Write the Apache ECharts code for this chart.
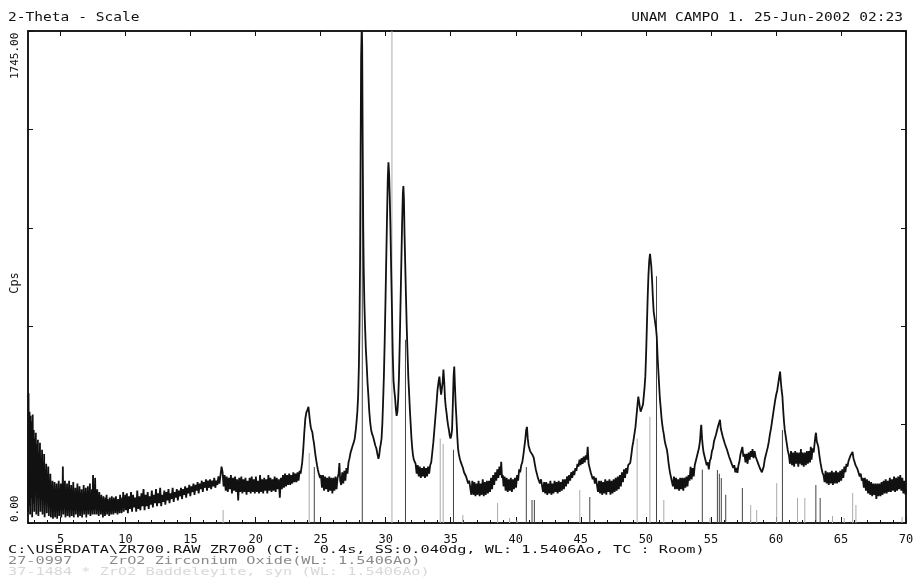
<!DOCTYPE html>
<html>
<head>
<meta charset="utf-8">
<script src="https://cdn.jsdelivr.net/npm/echarts@6/dist/echarts.min.js"></script>
<style>
  html, body { margin: 0; padding: 0; background: #fff; }
  #chart { width: 919px; height: 583px; }
</style>
</head>
<body>
<div id="chart"></div>
<script>
/*
 * ZR700 diffractogram, 2-Theta scale
 * */
var titleLeft = "2-Theta - Scale";
var titleRight = "UNAM CAMPO 1. 25-Jun-2002 02:23";
var footerLines = [
    "C:\\USERDATA\\ZR700.RAW ZR700 (CT:  0.4s, SS:0.040dg, WL: 1.5406Ao, TC : Room)",
    "27-0997    ZrO2 Zirconium Oxide(WL: 1.5406Ao)",
    "37-1484 * ZrO2 Baddeleyite, syn (WL: 1.5406Ao)"
];
var yAxisName = "Cps";
var yMaxLabel = "1745.00";
var yMinLabel = "0.00";

var xMin = 2.5;
var xMax = 70;
var yMax = 1745;
var yStep = 349;
var majorTicks = [5, 10, 15, 20, 25, 30, 35, 40, 45, 50, 55, 60, 65, 70];
var minorTicks = [3, 4, 5, 6, 7, 8, 9, 10, 11, 12, 13, 14, 15, 16, 17, 18, 19, 20, 21, 22, 23, 24, 25, 26, 27, 28, 29, 30,
    31, 32, 33, 34, 35, 36, 37, 38, 39, 40, 41, 42, 43, 44, 45, 46, 47, 48, 49, 50, 51, 52, 53, 54, 55, 56, 57, 58, 59, 60,
    61, 62, 63, 64, 65, 66, 67, 68, 69, 70];

// scan, [2theta, cps]
var scanLow = [[2.50,40],[2.54,460],[2.58,60],[2.62,395],[2.66,30],[2.70,380],[2.74,90],[2.78,360],[2.82,20],[2.86,385],[2.90,70],[2.94,330],[2.98,40],[3.02,300],[3.06,110],[3.10,320],[3.14,30],[3.18,280],[3.22,90],[3.26,295],[3.30,25],[3.34,250],[3.38,120],[3.42,285],[3.46,40],[3.50,230],[3.54,80],[3.58,260],[3.62,30],[3.66,215],[3.70,100],[3.74,245],[3.78,20],[3.82,190],[3.86,70],[3.90,210],[3.94,35],[3.98,175],[4.02,90],[4.06,200],[4.10,25],[4.14,150],[4.18,60],[4.22,175],[4.26,20],[4.30,130],[4.34,80],[4.38,150],[4.42,15],[4.46,120],[4.50,55],[4.54,145],[4.58,20],[4.62,110],[4.66,70],[4.70,140],[4.74,15],[4.78,100],[4.82,50],[4.86,150],[4.90,25],[4.94,120],[4.98,60],[5.02,140],[5.06,20],[5.10,110],[5.14,45],[5.18,200],[5.22,30],[5.26,130],[5.30,60],[5.34,150],[5.38,20],[5.42,100],[5.46,55],[5.50,140],[5.54,25],[5.58,95],[5.62,60],[5.66,150],[5.70,20],[5.74,120],[5.78,50],[5.82,135],[5.86,25],[5.90,90],[5.94,60],[5.98,145],[6.02,20],[6.06,110],[6.10,45],[6.14,125],[6.18,30],[6.22,95],[6.26,70],[6.30,140],[6.34,20],[6.38,100],[6.42,50],[6.46,130],[6.50,25],[6.54,90],[6.58,65],[6.62,120],[6.66,20],[6.70,100],[6.74,45],[6.78,135],[6.82,30],[6.86,85],[6.90,60],[6.94,125],[6.98,20],[7.02,105],[7.06,50],[7.10,130],[7.14,30],[7.18,90],[7.22,55],[7.26,140],[7.30,25],[7.34,100],[7.38,60],[7.42,120],[7.46,30],[7.50,170],[7.54,45],[7.58,110],[7.62,30],[7.66,160],[7.70,50],[7.74,100],[7.78,30],[7.82,120],[7.86,60],[7.90,95],[7.94,25],[7.98,110],[8.02,55],[8.06,90],[8.10,30],[8.14,100],[8.18,50],[8.22,85],[8.26,20],[8.30,95],[8.34,55],[8.38,80],[8.42,25],[8.46,90],[8.50,50],[8.54,100],[8.58,30],[8.62,85],[8.66,55],[8.70,75],[8.74,25],[8.78,90],[8.82,45],[8.86,80],[8.90,30],[8.94,95],[8.98,50],[9.02,75],[9.06,30],[9.10,90],[9.14,55],[9.18,80],[9.22,35],[9.26,95],[9.30,50],[9.34,70],[9.38,30],[9.42,85],[9.46,55],[9.50,75],[9.54,35],[9.58,100],[9.62,50],[9.66,80],[9.70,35],[9.74,90],[9.78,60],[9.82,110],[9.86,40],[9.90,85],[9.94,60],[9.98,100]];

var scanMid = [[10.02,45],[10.10,105],[10.18,35],[10.26,95],[10.34,50],[10.42,110],[10.50,40],[10.58,100],[10.66,55],[10.74,90],[10.82,40],[10.90,115],[10.98,50],[11.06,95],[11.14,45],[11.22,105],[11.30,60],[11.38,120],[11.46,45],[11.54,100],[11.62,60],[11.70,110],[11.78,50],[11.86,95],[11.94,65],[12.02,115],[12.10,55],[12.18,100],[12.26,70],[12.34,120],[12.42,60],[12.50,105],[12.58,70],[12.66,125],[12.74,60],[12.82,100],[12.90,75],[12.98,115],[13.06,65],[13.14,110],[13.22,80],[13.30,120],[13.38,70],[13.46,105],[13.54,85],[13.62,125],[13.70,75],[13.78,110],[13.86,90],[13.94,120],[14.02,80],[14.10,115],[14.18,95],[14.26,125],[14.34,85],[14.42,120],[14.50,100],[14.58,130],[14.66,90],[14.74,125],[14.82,105],[14.90,135],[14.98,95],[15.06,130],[15.14,110],[15.22,140],[15.30,100],[15.38,135],[15.46,115],[15.54,145],[15.62,105],[15.70,140],[15.78,120],[15.86,150],[15.94,110],[16.02,145],[16.10,125],[16.18,155],[16.26,115],[16.34,150],[16.42,125],[16.50,155],[16.58,120],[16.66,150],[16.74,130],[16.82,160],[16.90,125],[16.98,150],[17.06,135],[17.14,165],[17.22,140],[17.30,170],[17.38,200],[17.46,180],[17.54,130],[17.62,170],[17.70,115],[17.78,165],[17.86,110],[17.94,160],[18.02,120],[18.10,170],[18.18,105],[18.26,160],[18.34,115],[18.42,165],[18.50,110],[18.58,155],[18.66,80],[18.74,160],[18.82,110],[18.90,165],[18.98,105],[19.06,155],[19.14,110],[19.22,160],[19.30,100],[19.38,150],[19.46,110],[19.54,160],[19.62,105],[19.70,165],[19.78,110],[19.86,155],[19.94,105],[20.02,165],[20.10,110],[20.18,150],[20.26,105],[20.34,170],[20.42,110],[20.50,155],[20.58,105],[20.66,160],[20.74,115],[20.82,155],[20.90,105],[20.98,170],[21.06,115],[21.14,160],[21.22,110],[21.30,155],[21.38,115],[21.46,165],[21.54,110],[21.62,160],[21.70,120],[21.78,155],[21.86,90],[21.94,160],[22.02,120],[22.10,170],[22.18,125],[22.26,175],[22.34,130],[22.42,170],[22.50,135],[22.58,175],[22.66,135],[22.74,170],[22.82,140],[22.90,180],[22.98,145],[23.06,175],[23.14,145],[23.22,180],[23.30,150],[23.38,185],[23.46,175]];

var scanMain = [[23.50,180],[23.58,215],[23.66,260],[23.74,320],[23.82,370],[23.90,392],[23.98,400],[24.06,412],[24.12,385],[24.18,360],[24.24,340],[24.30,330],[24.36,322],[24.42,300],[24.48,285],[24.54,262],[24.60,240],[24.66,222],[24.72,205],[24.78,190],[24.84,178],[24.90,168],[24.96,160],[25.02,170],[25.10,125],[25.18,170],[25.26,115],[25.34,165],[25.42,120],[25.50,160],[25.58,110],[25.66,165],[25.74,115],[25.82,160],[25.90,105],[25.98,160],[26.06,115],[26.14,165],[26.22,120],[26.30,160],[26.38,175],[26.44,213],[26.50,150],[26.58,135],[26.66,180],[26.74,140],[26.82,185],[26.90,150],[26.98,195],[27.06,175],[27.14,215],[27.22,230],[27.30,250],[27.38,262],[27.46,275],[27.54,285],[27.62,300],[27.70,330],[27.76,360],[27.82,395],[27.88,450],[27.94,560],[27.99,720],[28.03,930],[28.07,1300],[28.11,1650],[28.15,1745],[28.19,1700],[28.23,1350],[28.27,1060],[28.31,900],[28.36,780],[28.41,700],[28.47,620],[28.54,560],[28.60,500],[28.67,450],[28.73,400],[28.80,360],[28.88,330],[28.96,315],[29.04,305],[29.12,290],[29.20,275],[29.28,265],[29.36,245],[29.44,228],[29.50,240],[29.56,265],[29.62,280],[29.68,300],[29.74,350],[29.80,430],[29.86,520],[29.92,640],[29.98,780],[30.04,930],[30.10,1080],[30.16,1220],[30.21,1279],[30.26,1240],[30.31,1160],[30.36,1060],[30.42,900],[30.48,760],[30.54,600],[30.60,505],[30.66,470],[30.72,445],[30.78,405],[30.84,380],[30.90,395],[30.96,440],[31.02,520],[31.08,640],[31.14,780],[31.20,920],[31.26,1060],[31.32,1170],[31.36,1195],[31.40,1150],[31.45,1020],[31.50,920],[31.56,800],[31.62,690],[31.68,600],[31.74,515],[31.80,460],[31.86,400],[31.92,350],[31.98,300],[32.04,265],[32.10,240],[32.16,225],[32.22,220],[32.30,210],[32.38,175],[32.46,205],[32.54,165],[32.62,200],[32.70,160],[32.78,195],[32.86,165],[32.94,200],[33.02,160],[33.10,195],[33.18,165],[33.26,200],[33.34,175],[33.42,205],[33.50,215],[33.58,250],[33.66,285],[33.74,330],[33.82,375],[33.90,420],[33.98,470],[34.06,500],[34.13,519],[34.20,480],[34.26,455],[34.32,448],[34.38,500],[34.44,544],[34.50,500],[34.56,440],[34.62,410],[34.68,390],[34.74,365],[34.80,345],[34.86,330],[34.92,310],[34.98,300],[35.04,310],[35.10,330],[35.16,420],[35.22,520],[35.27,555],[35.32,490],[35.38,420],[35.44,370],[35.50,310],[35.56,265],[35.62,245],[35.70,228],[35.78,215],[35.86,210],[35.94,195],[36.02,180],[36.10,175],[36.18,165],[36.26,160],[36.34,140],[36.42,150]];

var scanMidHigh = [[36.50,145],[36.58,100],[36.66,150],[36.74,100],[36.82,145],[36.90,95],[36.98,140],[37.06,100],[37.14,150],[37.22,95],[37.30,140],[37.38,100],[37.46,155],[37.54,95],[37.62,145],[37.70,100],[37.78,150],[37.86,105],[37.94,150],[38.02,110],[38.10,160],[38.18,120],[38.26,170],[38.34,135],[38.42,180],[38.50,150],[38.58,190],[38.66,160],[38.74,200],[38.82,170],[38.88,217],[38.94,160],[39.00,170],[39.06,130],[39.14,165],[39.22,115],[39.30,160],[39.38,110],[39.46,155],[39.54,115],[39.62,160],[39.70,110],[39.78,155],[39.86,120],[39.94,160],[40.02,125],[40.10,170],[40.18,150],[40.26,190],[40.34,180],[40.42,205],[40.50,215],[40.58,240],[40.66,270],[40.74,300],[40.80,330],[40.86,341],[40.92,300],[40.98,275],[41.04,265],[41.10,255],[41.16,262],[41.22,250],[41.30,240],[41.38,232],[41.46,210],[41.54,190],[41.62,175],[41.70,160],[41.78,150],[41.86,140],[41.94,155],[42.02,150],[42.10,110],[42.18,145],[42.26,105],[42.34,145],[42.42,100],[42.50,140],[42.58,105],[42.66,150],[42.74,100],[42.82,140],[42.90,105],[42.98,150],[43.06,110],[43.14,145],[43.22,105],[43.30,150],[43.38,110],[43.46,145],[43.54,115],[43.62,155],[43.70,120],[43.78,155],[43.86,130],[43.94,165],[44.02,140],[44.10,170],[44.18,150],[44.26,180],[44.34,160],[44.42,185],[44.50,170],[44.58,195],[44.66,185],[44.74,210],[44.82,200],[44.90,225],[44.98,205],[45.06,230],[45.14,210],[45.22,235],[45.30,215],[45.38,240],[45.46,225],[45.53,270],[45.60,210],[45.68,205],[45.76,180],[45.84,180],[45.92,155],[46.00,165],[46.08,140],[46.16,160],[46.24,160],[46.32,110],[46.40,150],[46.48,105],[46.56,150],[46.64,100],[46.72,145],[46.80,105],[46.88,155],[46.96,100],[47.04,150],[47.12,110],[47.20,155],[47.28,100],[47.36,150],[47.44,105],[47.52,155],[47.60,110],[47.68,160],[47.76,115],[47.84,165],[47.92,120],[48.00,170],[48.08,130],[48.16,180],[48.24,145],[48.32,190],[48.40,160],[48.48,195],[48.56,175],[48.64,205]];

var scanHigh = [[48.72,205],[48.80,213],[48.88,240],[48.96,270],[49.04,290],[49.12,315],[49.20,340],[49.28,380],[49.36,420],[49.42,448],[49.48,430],[49.54,410],[49.60,395],[49.66,390],[49.72,400],[49.78,420],[49.84,450],[49.90,480],[49.96,520],[50.02,600],[50.08,700],[50.14,800],[50.20,880],[50.26,930],[50.32,955],[50.36,960],[50.42,910],[50.48,860],[50.54,800],[50.60,750],[50.66,730],[50.72,710],[50.78,690],[50.84,660],[50.90,590],[50.96,540],[51.02,490],[51.08,440],[51.14,410],[51.20,375],[51.26,350],[51.32,330],[51.38,315],[51.44,295],[51.50,280],[51.56,270],[51.62,260],[51.68,240],[51.74,215],[51.80,195],[51.86,178],[51.92,165],[52.00,165],[52.08,130],[52.16,165],[52.24,120],[52.32,160],[52.40,120],[52.48,155],[52.56,115],[52.64,160],[52.72,120],[52.80,160],[52.88,115],[52.96,160],[53.04,125],[53.12,165],[53.20,130],[53.28,170],[53.36,150],[53.44,199],[53.52,155],[53.60,195],[53.68,165],[53.76,205],[53.84,200],[53.92,235],[54.00,240],[54.08,265],[54.16,290],[54.22,330],[54.26,348],[54.32,300],[54.38,270],[54.44,250],[54.52,235],[54.60,220],[54.68,205],[54.76,215],[54.84,190],[54.92,220],[55.00,230],[55.08,255],[55.16,265],[55.24,290],[55.32,290],[55.40,315],[55.48,320],[55.56,345],[55.64,350],[55.70,366],[55.76,335],[55.84,330],[55.92,305],[56.00,310],[56.08,280],[56.16,285],[56.24,260],[56.32,260],[56.40,235],[56.48,240],[56.56,215],[56.64,220],[56.72,195],[56.80,205],[56.88,180],[56.96,195],[57.04,178],[57.12,205],[57.20,220],[57.28,245],[57.36,250],[57.42,270],[57.50,235],[57.58,245],[57.66,215],[57.74,245],[57.82,210],[57.90,250],[57.98,225],[58.06,255],[58.14,235],[58.20,262],[58.28,230],[58.36,255],[58.44,235],[58.52,240],[58.60,215],[58.68,220],[58.76,195],[58.84,200],[58.92,180],[58.98,185],[59.06,200],[59.14,225],[59.22,240],[59.30,255],[59.38,270],[59.46,290],[59.54,315],[59.62,335],[59.70,360],[59.78,385],[59.86,410],[59.94,435],[60.02,455],[60.10,470],[60.18,495],[60.26,520],[60.32,537],[60.38,500],[60.44,470],[60.50,448],[60.56,400],[60.62,360],[60.68,330],[60.76,305],[60.84,280],[60.92,255],[61.00,240],[61.08,210],[61.16,255],[61.24,205],[61.32,250],[61.40,200],[61.48,255],[61.56,210],[61.64,250],[61.72,200],[61.80,250],[61.88,210],[61.92,262],[61.98,205],[62.06,250],[62.14,200],[62.22,250],[62.30,205],[62.38,255],[62.46,210],[62.54,255],[62.62,215],[62.68,270],[62.74,225],[62.82,265],[62.90,250],[62.98,285],[63.04,310],[63.08,320],[63.14,290],[63.20,280],[63.26,270],[63.34,240],[63.42,215],[63.50,195],[63.58,178],[63.66,170],[63.74,145],[63.82,185],[63.90,140],[63.98,180],[64.06,135],[64.14,180],[64.22,140],[64.30,185],[64.38,135],[64.46,180],[64.54,140],[64.62,185],[64.70,140],[64.78,180],[64.86,145],[64.94,185],[65.02,150],[65.10,190],[65.18,160],[65.26,200],[65.34,180],[65.42,210],[65.50,200],[65.58,220],[65.66,220],[65.74,240],[65.82,240],[65.89,252],[65.96,230],[66.04,230],[66.12,205],[66.20,210],[66.28,190],[66.36,190],[66.44,165],[66.52,175],[66.60,150],[66.68,160],[66.76,125],[66.84,160],[66.92,115],[67.00,155],[67.08,105],[67.16,150],[67.24,100],[67.32,145],[67.40,95],[67.48,140],[67.56,100],[67.64,140],[67.72,85],[67.80,140],[67.88,95],[67.96,140],[68.04,95],[68.12,145],[68.20,100],[68.28,150],[68.36,105],[68.44,155],[68.52,105],[68.60,150],[68.68,110],[68.76,160],[68.84,110],[68.92,155],[69.00,115],[69.08,165],[69.16,110],[69.24,160],[69.32,115],[69.40,165],[69.48,120],[69.56,170],[69.64,115],[69.72,160],[69.80,105],[69.88,150],[69.96,100],[70.00,120]];

// reference card lines
var stickPos = [17.50, 24.12, 24.51, 28.20, 30.48, 31.52, 34.19, 34.42, 35.21, 35.93, 38.60, 39.52, 40.09, 40.81, 41.25, 41.43,
    44.92, 45.69, 49.33, 50.31, 50.82, 51.38, 54.34, 54.93, 55.50, 55.65, 55.80, 56.14, 57.42, 58.06, 58.52, 60.06, 60.50,
    61.66, 62.22, 63.07, 63.40, 64.35, 65.25, 65.90, 66.15, 69.70];
var stickHeight = [46, 248, 199, 1745, 1745, 650, 300, 280, 260, 28, 71, 18, 11, 199, 82, 82,
    117, 92, 300, 377, 875, 82, 190, 18, 188, 175, 160, 100, 124, 64, 46, 142, 330,
    89, 89, 135, 89, 25, 18, 106, 64, 21];
var stickDark = [0, 0, 1, 1, 0, 1, 0, 0, 1, 0, 0, 0, 0, 1, 1, 1,
    0, 1, 0, 0, 1, 0, 1, 0, 1, 1, 1, 1, 1, 0, 0, 0, 1,
    0, 0, 1, 1, 0, 0, 0, 0, 0];

var scan = scanLow.concat(scanMid, scanMain, scanMidHigh, scanHigh);

var sticks = [];
for (var i = 0; i < stickPos.length; i++) {
    sticks.push({
        value: [stickPos[i], stickHeight[i]],
        itemStyle: {color: stickDark[i] ? '#444' : '#aaa'}
    });
}

var monoFont = '"DejaVu Sans Mono", "Liberation Mono", monospace';

var chartDiv = document.getElementById("chart");
var chart = echarts.init(chartDiv, null, {renderer: 'canvas'});

var option = {
    animation: false,
    backgroundColor: '#fff',
    grid: {
        left: 28,
        right: 13,
        top: 31,
        bottom: 60,
        show: true,
        borderColor: '#111',
        borderWidth: 1.5,
        backgroundColor: 'transparent'
    },
    xAxis: [
        {
            type: 'value', min: xMin, max: xMax, position: 'bottom',
            axisLine: {show: true, lineStyle: {color: '#111', width: 1.5}},
            axisTick: {show: true, inside: true, length: 3, customValues: minorTicks, lineStyle: {color: '#111'}},
            axisLabel: {show: true, customValues: majorTicks, margin: 11, color: '#111', fontFamily: monoFont, fontSize: 12},
            splitLine: {show: false}
        },
        {
            type: 'value', min: xMin, max: xMax, position: 'bottom',
            axisLine: {show: false},
            axisTick: {show: true, inside: true, length: 6, customValues: majorTicks, lineStyle: {color: '#111'}},
            axisLabel: {show: false},
            splitLine: {show: false}
        },
        {
            type: 'value', min: xMin, max: xMax, position: 'top',
            axisLine: {show: true, lineStyle: {color: '#111', width: 1.5}},
            axisTick: {show: true, inside: true, length: 5, customValues: majorTicks, lineStyle: {color: '#111'}},
            axisLabel: {show: false},
            splitLine: {show: false}
        }
    ],
    yAxis: [
        {
            type: 'value', min: 0, max: yMax, interval: yStep, position: 'left',
            axisLine: {show: true, lineStyle: {color: '#111', width: 1.5}},
            axisTick: {show: true, inside: true, length: 5, lineStyle: {color: '#111'}},
            axisLabel: {show: false},
            splitLine: {show: false}
        },
        {
            type: 'value', min: 0, max: yMax, interval: yStep, position: 'right',
            axisLine: {show: true, lineStyle: {color: '#111', width: 1.5}},
            axisTick: {show: true, inside: true, length: 5, lineStyle: {color: '#111'}},
            axisLabel: {show: false},
            splitLine: {show: false}
        }
    ],
    series: [
        {
            name: 'cards',
            type: 'bar',
            xAxisIndex: 0,
            yAxisIndex: 0,
            barWidth: 1,
            z: 1,
            data: sticks
        },
        {
            name: 'ZR700',
            type: 'line',
            xAxisIndex: 0,
            yAxisIndex: 0,
            showSymbol: false,
            z: 3,
            lineStyle: {color: '#111', width: 1.8},
            data: scan
        }
    ],
    graphic: [
        {type: 'text', x: 8, y: 18, scaleX: 1.12,
            style: {text: titleLeft, fontFamily: monoFont, fontSize: 13, fill: '#111', textVerticalAlign: 'middle'}},
        {type: 'text', x: 903, y: 18, scaleX: 1.12,
            style: {text: titleRight, fontFamily: monoFont, fontSize: 13, fill: '#111', textAlign: 'right', textVerticalAlign: 'middle'}},
        {type: 'text', x: 15, y: 79, rotation: Math.PI / 2,
            style: {text: yMaxLabel, fontFamily: monoFont, fontSize: 11, fill: '#111', textAlign: 'left', textVerticalAlign: 'middle'}},
        {type: 'text', x: 15, y: 522, rotation: Math.PI / 2,
            style: {text: yMinLabel, fontFamily: monoFont, fontSize: 11, fill: '#111', textAlign: 'left', textVerticalAlign: 'middle'}},
        {type: 'text', x: 15, y: 283, rotation: Math.PI / 2,
            style: {text: yAxisName, fontFamily: monoFont, fontSize: 12, fill: '#111', textAlign: 'center', textVerticalAlign: 'middle'}},
        {type: 'text', x: 8, y: 550, scaleX: 1.45,
            style: {text: footerLines[0], fontFamily: monoFont, fontSize: 10.5, fill: '#111', textVerticalAlign: 'middle'}},
        {type: 'text', x: 8, y: 561, scaleX: 1.45,
            style: {text: footerLines[1], fontFamily: monoFont, fontSize: 10.5, fill: '#8a8a8a', textVerticalAlign: 'middle'}},
        {type: 'text', x: 8, y: 572, scaleX: 1.45,
            style: {text: footerLines[2], fontFamily: monoFont, fontSize: 10.5, fill: '#d8d8d8', textVerticalAlign: 'middle'}}
    ]
};
chart.setOption(option);
</script>
</body>
</html>
